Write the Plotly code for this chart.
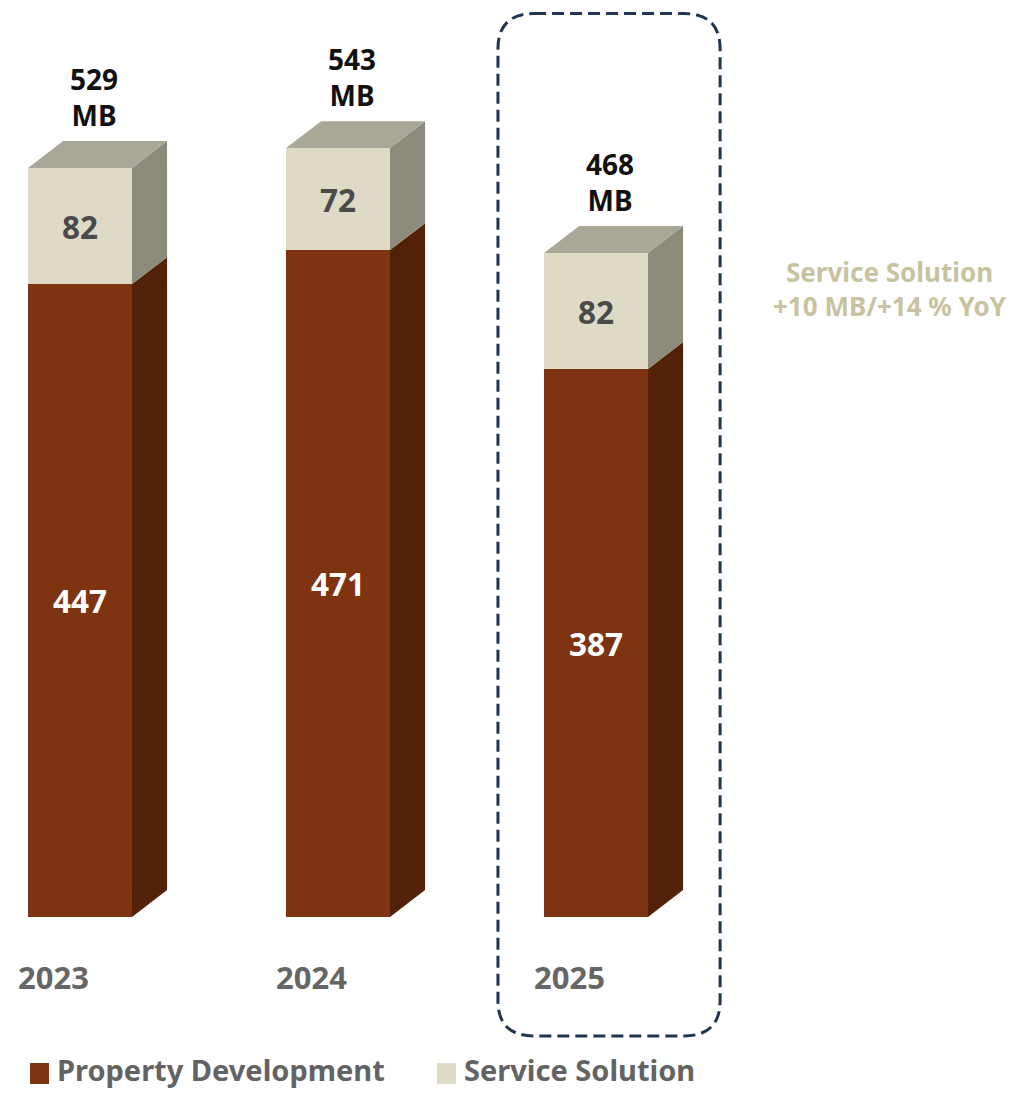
import plotly.graph_objects as go

# Revenue split by segment (MB)
years = ["2023", "2024", "2025"]
property_dev = [447, 471, 387]
service_sol = [82, 72, 82]
totals = [529, 543, 468]
note_lines = ["Service Solution", "+10 MB/+14 % YoY"]
series_names = ["Property Development", "Service Solution"]

# Palette: front / side / top faces
PD_FRONT, PD_SIDE = "#7E3311", "#522108"
SS_FRONT, SS_SIDE, SS_TOP = "#DEDAC5", "#8D8B7C", "#A9A798"
FONT = "Noto Sans"

W, H = 1024, 1095
BAR_W = 0.403          # category units
DX, DY = 0.136, 19.0   # depth of the extrusion (x in category units, y in MB)

xpos = list(range(len(years)))

fig = go.Figure()
fig.add_trace(go.Bar(
    x=xpos, y=property_dev, width=BAR_W, name=series_names[0],
    marker=dict(color=PD_FRONT, line=dict(width=0)),
    text=[str(v) for v in property_dev], textposition="inside",
    insidetextanchor="middle", textangle=0, constraintext="none",
    textfont=dict(family=FONT, size=31.5, color="white", weight="bold"),
    showlegend=False, hoverinfo="skip"))
fig.add_trace(go.Bar(
    x=xpos, y=service_sol, width=BAR_W, name=series_names[1],
    marker=dict(color=SS_FRONT, line=dict(width=0)),
    text=[str(v) for v in service_sol], textposition="inside",
    insidetextanchor="middle", textangle=0, constraintext="none",
    textfont=dict(family=FONT, size=31.5, color="#4A4A4A", weight="bold"),
    showlegend=False, hoverinfo="skip"))

shapes = []
annotations = []


def poly(pts, color):
    d = "M " + " L ".join(f"{x},{y}" for x, y in pts) + " Z"
    return dict(type="path", path=d, xref="x", yref="y",
                fillcolor=color, line=dict(width=0), layer="above")


for i, (pd_v, ss_v, tot) in enumerate(zip(property_dev, service_sol, totals)):
    xr = i + BAR_W / 2
    xl = i - BAR_W / 2
    top = pd_v + ss_v
    # side faces
    shapes.append(poly([(xr, 0), (xr + DX, DY), (xr + DX, pd_v + DY), (xr, pd_v)], PD_SIDE))
    shapes.append(poly([(xr, pd_v), (xr + DX, pd_v + DY), (xr + DX, top + DY), (xr, top)], SS_SIDE))
    # top face
    shapes.append(poly([(xl, top), (xr, top), (xr + DX, top + DY), (xl + DX, top + DY)], SS_TOP))
    # total label
    annotations.append(dict(
        x=i, y=top + DY, xref="x", yref="y", xshift=14, yshift=5,
        text=f"{tot}<br>MB", showarrow=False, xanchor="center", yanchor="bottom",
        align="center", font=dict(family=FONT, size=28, color="#111111", weight="bold")))
    # category label
    annotations.append(dict(
        x=i, y=0, xref="x", yref="y", xshift=-27, yshift=-60,
        text=years[i], showarrow=False, xanchor="center", yanchor="middle",
        font=dict(family=FONT, size=31, color="#666666", weight="bold")))

# Dashed rounded frame around the latest year
x0, x1 = 2 - 0.38, 2 + 0.481
y0, y1 = -84, 638
rx, ry = 0.14, 25
frame = (f"M {x0 + rx},{y1} L {x1 - rx},{y1} Q {x1},{y1} {x1},{y1 - ry} "
         f"L {x1},{y0 + ry} Q {x1},{y0} {x1 - rx},{y0} "
         f"L {x0 + rx},{y0} Q {x0},{y0} {x0},{y0 + ry} "
         f"L {x0},{y1 - ry} Q {x0},{y1} {x0 + rx},{y1} Z")
shapes.append(dict(type="path", path=frame, xref="x", yref="y",
                   line=dict(color="#1F3550", width=3, dash="12px,6px"),
                   fillcolor="rgba(0,0,0,0)"))

# Side note
annotations.append(dict(
    x=890 / W, y=1 - 289 / H, xref="paper", yref="paper",
    text="<br>".join(note_lines), showarrow=False, xanchor="center", yanchor="middle",
    align="center", font=dict(family=FONT, size=26, color="#C8C2A0", weight="bold")))

# Legend drawn as swatches + labels
legend_items = [(series_names[0], PD_FRONT, 30), (series_names[1], SS_FRONT, 437)]
for name, color, px in legend_items:
    shapes.append(dict(type="rect", xref="paper", yref="paper",
                       x0=px / W, x1=(px + 19) / W, y0=1 - 1084 / H, y1=1 - 1063 / H,
                       fillcolor=color, line=dict(width=0)))
    annotations.append(dict(
        x=(px + 25) / W, y=1 - 1069 / H, xref="paper", yref="paper",
        text=name, showarrow=False, xanchor="left", yanchor="middle",
        font=dict(family=FONT, size=29, color="#636363", weight="bold")))

px_per_unit = 1.416
base_px = 917
cat_px = 258
first_px = 80

fig.update_layout(
    width=W, height=H, barmode="stack", bargap=0,
    margin=dict(l=0, r=0, t=0, b=0),
    paper_bgcolor="white", plot_bgcolor="white",
    xaxis=dict(range=[-first_px / cat_px, (W - first_px) / cat_px], visible=False, fixedrange=True),
    yaxis=dict(range=[-(H - base_px) / px_per_unit, base_px / px_per_unit], visible=False, fixedrange=True),
    shapes=shapes, annotations=annotations,
)

fig.write_html("out.html", config={"displayModeBar": False})
